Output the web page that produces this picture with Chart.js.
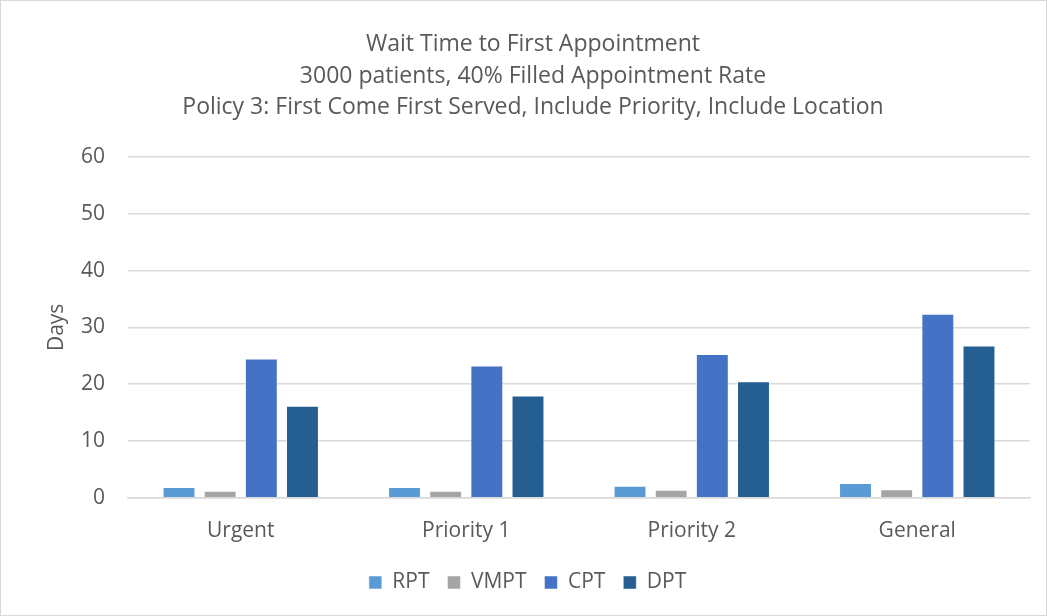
<!DOCTYPE html>
<html>
<head>
<meta charset="utf-8">
<script src="https://cdn.jsdelivr.net/npm/chart.js@4.4.0/dist/chart.umd.min.js"></script>
<style>
  html, body { margin: 0; padding: 0; background: #fff; }
  .contenedor { position: relative; width: 1045px; height: 614px; border: 1px solid #D9D9D9; }
</style>
</head>
<body>
<div class="contenedor"><canvas id="grafico"></canvas></div>
<script>
const categorias = ['Urgent', 'Priority 1', 'Priority 2', 'General'];
const rpt = [1.9, 1.9, 2.1, 2.6];
const vmpt = [1.25, 1.25, 1.4, 1.5];
const cpt = [24.5, 23.3, 25.3, 32.4];
const dpt = [16.2, 18.0, 20.5, 26.8];
const titulo = [
    'Wait Time to First Appointment',
    '3000 patients, 40% Filled Appointment Rate',
    'Policy 3: First Come First Served, Include Priority, Include Location'
];

const fuente = "'Open Sans', 'Noto Sans', sans-serif";
const gris = '#595959';

function serie(label, data, color) {
    return {
        label: label,
        data: data,
        backgroundColor: color,
        borderColor: 'rgba(255,255,255,0.5)',
        borderWidth: 1,
        categoryPercentage: 0.73,
        barPercentage: 0.8
    };
}

const ctx = document.getElementById('grafico').getContext('2d');
new Chart(ctx, {
    type: 'bar',
    data: {
        labels: categorias,
        datasets: [
            serie('RPT', rpt, '#5B9BD5'),
            serie('VMPT', vmpt, '#A5A5A5'),
            serie('CPT', cpt, '#4472C4'),
            serie('DPT', dpt, '#255E91')
        ]
    },
    options: {
        responsive: true,
        maintainAspectRatio: false,
        animation: false,
        layout: { padding: { left: 35, right: 16, top: 27, bottom: 12 } },
        plugins: {
            title: {
                display: true,
                text: titulo,
                color: gris,
                font: { family: fuente, size: 23, weight: 'normal', lineHeight: 1.39 },
                padding: { top: 0, bottom: 33 }
            },
            legend: {
                position: 'bottom',
                labels: {
                    color: gris,
                    font: { family: fuente, size: 21 },
                    boxWidth: 13,
                    boxHeight: 13,
                    padding: 7,
                    // a bit more room between items, like the original
                    generateLabels: function(chart) {
                        const items = Chart.defaults.plugins.legend.labels.generateLabels(chart);
                        items.forEach(item => { item.text = item.text + '  '; });
                        return items;
                    }
                }
            },
            tooltip: { enabled: false }
        },
        scales: {
            x: {
                grid: { display: false, drawTicks: false },
                border: { display: true, color: '#D9D9D9', width: 1.5 },
                ticks: { color: gris, font: { family: fuente, size: 21 }, padding: 21 }
            },
            y: {
                min: 0,
                max: 60,
                afterFit: function(scale) { scale.width = 92; },
                ticks: { stepSize: 10, color: gris, font: { family: fuente, size: 21 }, padding: 23 },
                grid: { color: '#D9D9D9', lineWidth: 1.5, drawTicks: false },
                border: { display: false },
                title: {
                    display: true,
                    text: 'Days',
                    color: gris,
                    font: { family: fuente, size: 21 },
                    padding: { top: 8, bottom: 0 }
                }
            }
        }
    }
});
</script>
</body>
</html>
